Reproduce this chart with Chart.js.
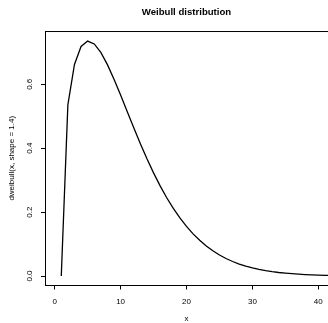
<!DOCTYPE html>
<html>
<head>
<meta charset="utf-8">
<script src="https://cdn.jsdelivr.net/npm/chart.js@4/dist/chart.umd.min.js"></script>
<style>
  html, body { margin: 0; padding: 0; background: #fff; overflow: hidden; }
  canvas { display: block; }
</style>
</head>
<body>
<canvas id="weibull" width="328" height="323"></canvas>
<script>
// dweibull(x, shape = 1.4), one value per index 1..42
const densityValues = [
  0, 0.5356, 0.6621, 0.7186, 0.7354, 0.7264, 0.6998, 0.6616, 0.6160, 0.5664,
  0.5150, 0.4638, 0.4143, 0.3670, 0.3228, 0.2821, 0.2450, 0.2115, 0.1817, 0.1552,
  0.1319, 0.1117, 0.0941, 0.0789, 0.0659, 0.0548, 0.0454, 0.0375, 0.0309, 0.0253,
  0.0207, 0.0168, 0.0136, 0.0110, 0.0089, 0.0072, 0.0057, 0.0046, 0.0037, 0.0029,
  0.0023, 0.0018
];
const xTicks = [0, 10, 20, 30, 40];
const yTicks = [0, 0.2, 0.4, 0.6];

const FONT = '"Liberation Sans", Arial, Helvetica, sans-serif';

// R draws a box round the plot region; the right edge falls outside the picture
const boxTop = {
  id: 'box-top',
  afterDraw(chart) {
    const { ctx, chartArea } = chart;
    ctx.save();
    ctx.strokeStyle = '#000';
    ctx.lineWidth = 1;
    ctx.beginPath();
    ctx.moveTo(chartArea.left, chartArea.top + 0.5);
    ctx.lineTo(chartArea.right, chartArea.top + 0.5);
    ctx.stroke();
    ctx.restore();
  }
};

new Chart(document.getElementById('weibull'), {
  type: 'line',
  data: {
    datasets: [{
      data: densityValues.map((y, i) => ({ x: i + 1, y })),
      borderColor: '#000',
      borderWidth: 1.3,
      pointRadius: 0,
      tension: 0,
      fill: false
    }]
  },
  options: {
    responsive: false,
    animation: false,
    devicePixelRatio: 1,
    layout: { padding: 0 },
    plugins: {
      legend: { display: false },
      tooltip: { enabled: false },
      title: {
        display: true,
        text: 'Weibull distribution',
        fullSize: false,
        color: '#000',
        font: { family: FONT, size: 9.6, weight: 'bold', lineHeight: 1.2 },
        padding: { top: 6.2, bottom: 13.3 }
      }
    },
    scales: {
      x: {
        type: 'linear',
        min: -1.47,
        max: 41.47,
        afterBuildTicks(s) { s.ticks = xTicks.map(v => ({ value: v })); },
        afterFit(s) { s.height = 37.5; s.paddingLeft = 0; s.paddingRight = 0; },
        grid: { drawOnChartArea: false, color: '#000', tickLength: 4, lineWidth: 1 },
        border: { color: '#000', width: 1 },
        ticks: {
          color: '#000',
          font: { family: FONT, size: 8 },
          padding: 7,
          maxRotation: 0,
          callback: v => String(v)
        },
        title: {
          display: true,
          text: 'x',
          color: '#000',
          font: { family: FONT, size: 8, lineHeight: 1 },
          padding: { top: 0, bottom: 0 }
        }
      },
      y: {
        type: 'linear',
        min: -0.0297,
        max: 0.7668,
        afterBuildTicks(s) { s.ticks = yTicks.map(v => ({ value: v })); },
        afterFit(s) { s.width = 45; s.paddingTop = 0; s.paddingBottom = 0; },
        grid: { drawOnChartArea: false, color: '#000', tickLength: 4, lineWidth: 1 },
        border: { color: '#000', width: 1 },
        ticks: {
          color: '#000',
          font: { family: FONT, size: 8 },
          padding: 5.4,
          minRotation: 90,
          maxRotation: 90,
          crossAlign: 'center',
          callback: v => v.toFixed(1)
        },
        title: {
          display: true,
          text: 'dweibull(x, shape = 1.4)',
          color: '#000',
          font: { family: FONT, size: 8, lineHeight: 1.2 },
          padding: { top: 7, bottom: 0 }
        }
      }
    }
  },
  plugins: [boxTop]
});
</script>
</body>
</html>
